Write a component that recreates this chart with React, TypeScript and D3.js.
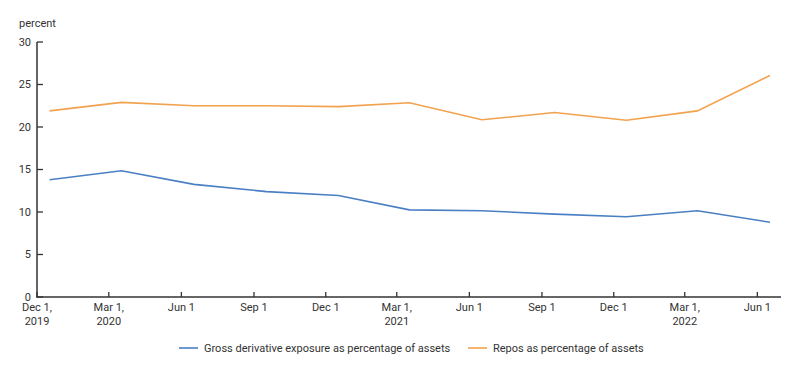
import React from "react";
import * as d3 from "d3";

const dates = [
  "2019-12-17", "2020-03-17", "2020-06-17", "2020-09-17", "2020-12-17",
  "2021-03-17", "2021-06-17", "2021-09-17", "2021-12-17", "2022-03-17", "2022-06-17",
];
const derivatives = [13.8, 14.85, 13.25, 12.4, 11.95, 10.25, 10.15, 9.75, 9.45, 10.15, 8.8];
const repos = [21.9, 22.9, 22.5, 22.5, 22.4, 22.85, 20.85, 21.7, 20.8, 21.9, 26.05];
const xTicks = [
  "2019-12-01", "2020-03-01", "2020-06-01", "2020-09-01", "2020-12-01",
  "2021-03-01", "2021-06-01", "2021-09-01", "2021-12-01", "2022-03-01", "2022-06-01",
];
const xTickLabels: string[][] = [
  ["Dec 1,", "2019"], ["Mar 1,", "2020"], ["Jun 1"], ["Sep 1"], ["Dec 1"],
  ["Mar 1,", "2021"], ["Jun 1"], ["Sep 1"], ["Dec 1"], ["Mar 1,", "2022"], ["Jun 1"],
];
const yTicks = [0, 5, 10, 15, 20, 25, 30];
const seriesNames = ["Gross derivative exposure as percentage of assets", "Repos as percentage of assets"];

const BLUE = "#4a7fc4";
const ORANGE = "#f2a24e";
const AXIS = "#333";
const FONT = "Roboto, 'Noto Sans', sans-serif";

export default function App() {
  const W = 800, H = 370;
  const parse = d3.utcParse("%Y-%m-%d");
  const x = d3.scaleUtc()
    .domain([parse("2019-12-01")!, parse("2022-07-01")!])
    .range([37, 781]);
  const y = d3.scaleLinear().domain([0, 30]).range([297, 42]);
  const line = d3.line<number>()
    .x((_, i) => x(parse(dates[i])!))
    .y((v) => y(v));

  return (
    <svg width={W} height={H} style={{ position: "absolute", left: 0, top: 0 }} fontFamily={FONT}>
      <rect width={W} height={H} fill="#fff" />
      <text x={19} y={27} fontSize={11} fill={AXIS}>percent</text>
      {yTicks.map((t) => (
        <g key={t}>
          <line x1={37} x2={43} y1={y(t)} y2={y(t)} stroke={AXIS} strokeWidth={1.3} />
          <text x={31} y={y(t)} dy="0.35em" textAnchor="end" fontSize={11} fill={AXIS}>{t}</text>
        </g>
      ))}
      {xTicks.map((t, i) => {
        const xx = x(parse(t)!);
        return (
          <g key={t}>
            <line x1={xx} x2={xx} y1={297} y2={292} stroke={AXIS} strokeWidth={1.3} />
            {xTickLabels[i].map((s, j) => (
              <text key={j} x={xx} y={311 + j * 14} textAnchor="middle" fontSize={11} fill={AXIS}>{s}</text>
            ))}
          </g>
        );
      })}
      <line x1={37} x2={37} y1={42} y2={297.6} stroke={AXIS} strokeWidth={1.5} />
      <line x1={36.3} x2={781} y1={297} y2={297} stroke={AXIS} strokeWidth={1.5} />
      <path d={line(repos) || ""} fill="none" stroke={ORANGE} strokeWidth={1.6} />
      <path d={line(derivatives) || ""} fill="none" stroke={BLUE} strokeWidth={1.6} />
      <g>
        <line x1={179} x2={198} y1={348} y2={348} stroke={BLUE} strokeWidth={1.6} />
        <text x={204} y={348} dy="0.35em" fontSize={11} fill={AXIS}>{seriesNames[0]}</text>
        <line x1={468} x2={487} y1={348} y2={348} stroke={ORANGE} strokeWidth={1.6} />
        <text x={493} y={348} dy="0.35em" fontSize={11} fill={AXIS}>{seriesNames[1]}</text>
      </g>
    </svg>
  );
}
